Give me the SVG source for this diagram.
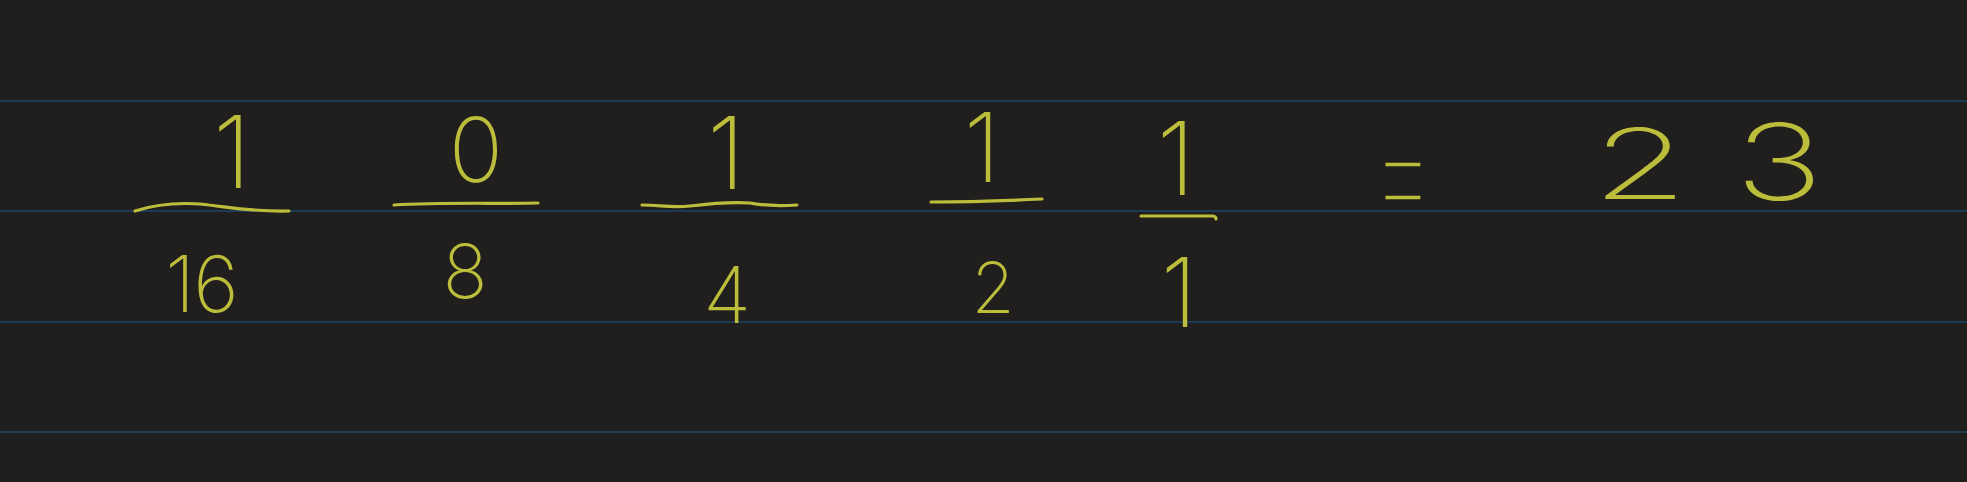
<svg xmlns="http://www.w3.org/2000/svg" width="1967" height="482" viewBox="0 0 1967 482">
<style>
.bg{fill:#201f1e}
.rule{stroke:#1d3a56;stroke-width:2;fill:none}
.ink{fill:#bdbd3c;font-family:Inter,"Liberation Sans",sans-serif;font-weight:200;text-anchor:middle}
.bar{stroke:#bdbd3c;stroke-width:3.2;fill:none;stroke-linecap:round}
.thin{stroke:#201f1e;stroke-width:3.5}
</style>
<rect class="bg" width="1967" height="482"/>
<g id="paper-lines">
<line class="rule" x1="0" y1="101" x2="1967" y2="101"/>
<line class="rule" x1="0" y1="211" x2="1967" y2="211"/>
<line class="rule" x1="0" y1="322" x2="1967" y2="322"/>
<line class="rule" x1="0" y1="432" x2="1967" y2="432"/>
</g>
<g id="col16">
<text class="ink" x="232" y="188" font-size="100">1</text>
<path class="bar" d="M135 211 C160 203 185 203 200 204 C230 207 250 212 289 211"/>
<text class="ink" y="312" font-size="78"><tspan x="180">1</tspan><tspan x="216">6</tspan></text>
</g>
<g id="col8">
<text class="ink" x="476" y="182" font-size="90">0</text>
<path class="bar" d="M394 205 C440 202 500 204 538 203"/>
<text class="ink" x="465" y="298" font-size="74">8</text>
</g>
<g id="col4">
<text class="ink" x="726" y="189" font-size="100">1</text>
<path class="bar" d="M642 205 C660 205 670 208 690 206 C715 203 735 202 750 203 C765 206 780 206 797 205"/>
<text class="ink" x="727" y="323" font-size="78">4</text>
</g>
<g id="col2">
<text class="ink" x="982" y="182" font-size="96">1</text>
<path class="bar" d="M931 202 C965 202 1000 201 1042 199"/>
<text class="ink" x="993" y="313" font-size="70">2</text>
</g>
<g id="col1">
<text class="ink" x="1176" y="195" font-size="102">1</text>
<path class="bar" d="M1141 216 L1212 216 Q1216 216 1216 219"/>
<text class="ink" x="1179" y="327" font-size="96">1</text>
</g>
<g id="result">
<text class="ink thin" transform="translate(1403,228) scale(0.6,1)" font-size="165" font-weight="100">=</text>
<text class="ink" transform="translate(1640,199) scale(1.6,1)" font-size="97">2</text>
<text class="ink" transform="translate(1779,200) scale(1.4,1)" font-size="106">3</text>
</g>
</svg>
